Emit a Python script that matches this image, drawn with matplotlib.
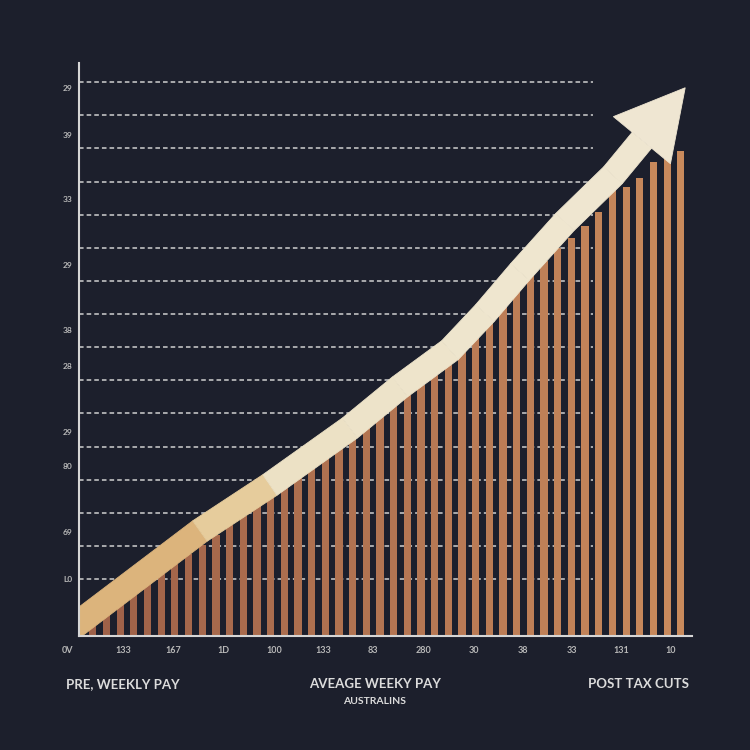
# ---------- weekly pay infographic: bars + rising arrow ----------
import numpy as np
import matplotlib.pyplot as plt
from matplotlib.colors import to_rgb

# ---------- DATA ----------
bar_values = [0.42, 0.72, 1.00, 1.30, 1.60, 1.87, 2.17, 2.48, 2.75, 3.05,
              3.35, 3.62, 3.92, 4.23, 4.50, 4.80, 5.10, 5.40, 5.70, 6.04,
              6.34, 6.64, 6.94, 7.27, 7.58, 7.88, 8.18, 8.72, 9.15, 9.60,
              10.05, 10.50, 10.93, 11.32, 11.71, 12.01, 12.38, 12.80, 13.55, 13.55,
              13.82, 14.31, 14.49, 14.64]

# trend line the arrow follows (bar index, value)
trend_x = [-2.5, 7.83, 12.95, 18.80, 22.46, 26.12, 28.68, 31.24, 34.53, 38.04, 40.16]
trend_y = [-0.06, 3.17, 4.56, 6.28, 7.52, 8.63, 9.75, 10.99, 12.50, 13.91, 14.97]

grid_levels = [1.72, 2.72, 3.72, 4.72, 5.72, 6.72, 7.72, 8.72,
               9.72, 10.72, 11.72, 12.72, 13.72, 14.72, 15.72, 16.72]

ytick_pos = [16.54, 15.12, 13.19, 11.20, 9.24, 8.15, 6.16, 5.13, 3.14, 1.72]
ytick_labels = ["29", "39", "33", "29", "38", "28", "29", "80", "69", "L0"]

xtick_pos = [-1.83, 2.19, 5.85, 9.58, 13.24, 16.82, 20.48, 24.2, 27.9,
             31.46, 35.04, 38.62, 42.28]
xtick_labels = ["0V", "133", "167", "1D", "100", "133", "83", "280", "30",
                "38", "33", "131", "10"]

# ---------- STYLE ----------
BG = "#1c1f2c"
AXIS_COL = "#d6d6d6"
TEXT_COL = "#dcdcdc"
plt.rcParams['font.family'] = ['Lato', 'DejaVu Sans']

fig = plt.figure(figsize=(7.5, 7.5), dpi=100, facecolor=BG)
ax = fig.add_axes([0.1053, 0.152, 0.8173, 0.764])
ax.set_facecolor(BG)
ax.set_xlim(-1.02, 43.82)
ax.set_ylim(0, 17.3)

# ---------- GRID ----------
ax.hlines(grid_levels, -1.05, 36.6, colors="#d0d0d0",
          linestyles=(0, (3, 2)), lw=1.1, zorder=1)

# ---------- BARS ----------
x = np.arange(len(bar_values))
c0, c1 = np.array(to_rgb("#9e6048")), np.array(to_rgb("#c98a5c"))
t = x / (len(x) - 1)
bar_colors = [tuple(c0 + (c1 - c0) * k) for k in t]
ax.bar(x, bar_values, width=0.52, color=bar_colors, zorder=2)

# ---------- ARROW ----------
# work in pixel-like space so widths are even, then scale back
sx, sy = 13.67, 33.13
P = np.column_stack([np.array(trend_x) * sx, np.array(trend_y) * sy])
seg = np.diff(P, axis=0)
seg = seg / np.linalg.norm(seg, axis=1)[:, None]
vdir = np.vstack([seg[0], (seg[:-1] + seg[1:]) / 2, seg[-1]])
vdir = vdir / np.linalg.norm(vdir, axis=1)[:, None]
nrm = np.column_stack([-vdir[:, 1], vdir[:, 0]])
hw = 12.5
upper = P + hw * nrm
lower = P - hw * nrm

shaft_cols = ["#dcb47c", "#e6cc9c", "#ece1c5", "#ede3c9", "#eee4cb",
              "#eee5cd", "#efe6cf", "#efe6cf", "#efe6d0", "#efe6d0"]
for k in range(len(P) - 1):
    quad = np.array([lower[k], lower[k + 1], upper[k + 1], upper[k]])
    ax.fill(quad[:, 0] / sx, quad[:, 1] / sy, color=shaft_cols[k],
            lw=0.6, zorder=3)

d = seg[-1]
n = np.array([-d[1], d[0]])
B = P[-1]
head = np.array([B - 37 * n, B + 68 * d, B + 37 * n])
ax.fill(head[:, 0] / sx, head[:, 1] / sy, color="#efe6d2", lw=0.6, zorder=3)

# ---------- AXES ----------
for s in ["top", "right"]:
    ax.spines[s].set_visible(False)
for s in ["left", "bottom"]:
    ax.spines[s].set_color(AXIS_COL)
    ax.spines[s].set_linewidth(1.5)
    ax.spines[s].set_zorder(4)

ax.set_yticks(ytick_pos, ytick_labels)
ax.tick_params(axis="y", length=0, pad=5, labelsize=6, labelcolor="#b8b8b8")
for lab in ax.get_yticklabels():
    lab.set_fontweight("bold")

ax.set_xticks([])
xform = ax.get_xaxis_transform()
for pos, lab in zip(xtick_pos, xtick_labels):
    ax.text(pos, -0.026, lab, transform=xform, ha="center", va="center",
            fontsize=6.5, fontweight="bold", color="#b8b8b8", clip_on=False)

# ---------- BOTTOM LABELS ----------
fig.text(0.088, 0.088, "PRE, WEEKLY PAY", color=TEXT_COL, fontsize=9.5,
         fontweight="bold", ha="left", va="center")
fig.text(0.5, 0.088, "AVEAGE WEEKY PAY", color=TEXT_COL, fontsize=9.5,
         fontweight="bold", ha="center", va="center")
fig.text(0.5, 0.065, "AUSTRALINS", color=TEXT_COL, fontsize=7.5,
         fontweight="bold", ha="center", va="center")
fig.text(0.851, 0.088, "POST TAX CUTS", color=TEXT_COL, fontsize=9.5,
         fontweight="bold", ha="center", va="center")

fig.savefig("out.png", dpi=100, facecolor=BG)
